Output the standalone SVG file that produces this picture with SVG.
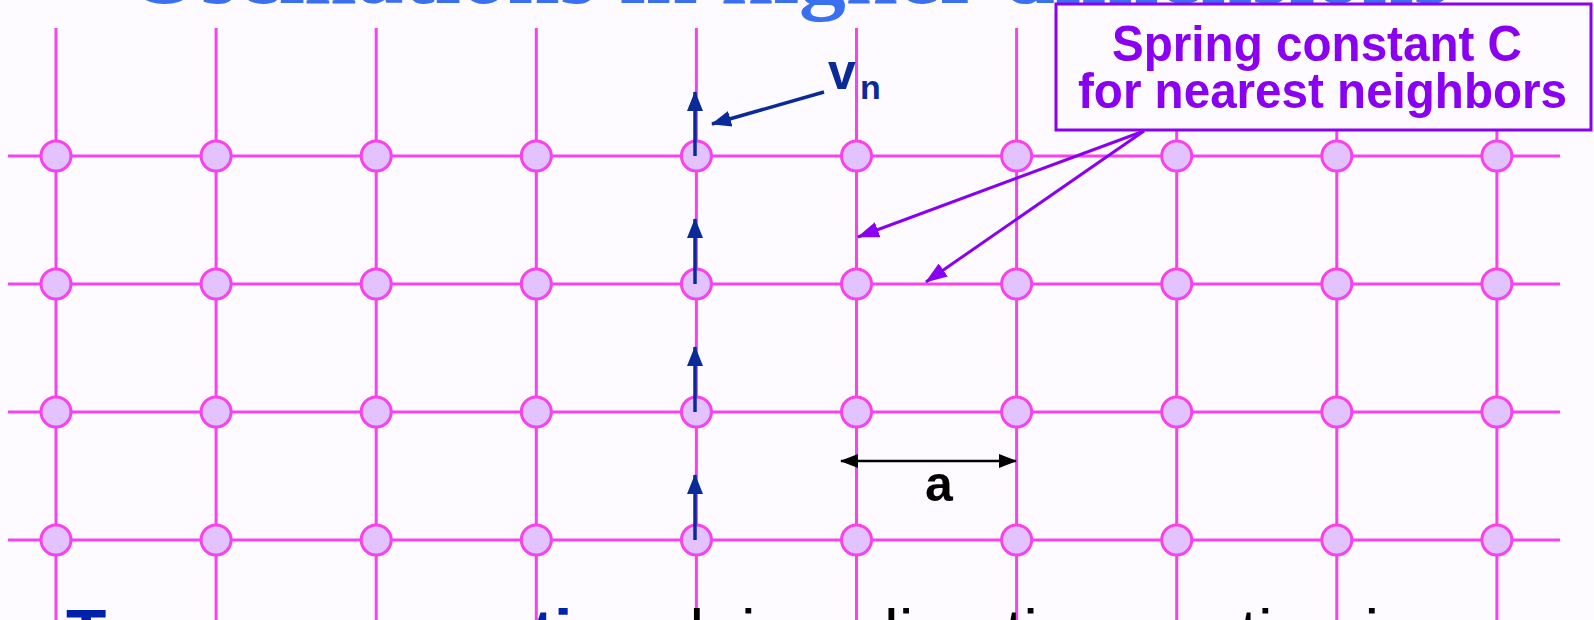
<svg xmlns="http://www.w3.org/2000/svg" width="1594" height="620" viewBox="0 0 1594 620">
<style>
.bg{fill:#fdfbff}
.gl{stroke:#f842ee;stroke-width:3;fill:none}
.nd{fill:#e2c2ff;stroke:#f842ee;stroke-width:3}
.ba{stroke:#0a2a9a;stroke-width:3.5;fill:none}
.pa{stroke:#8a00f0;stroke-width:3;fill:none}
.ka{stroke:#000;stroke-width:2.5;fill:none}
.box{fill:#fdfbff;stroke:#8a00f0;stroke-width:3}
.bt{font-family:"Liberation Sans",Arial,sans-serif;font-weight:bold;font-size:50px;fill:#8a00f0}
.title{font-family:"Liberation Serif","Times New Roman",serif;font-weight:bold;font-size:92px;fill:#3a6ff0}
.sans{font-family:"Liberation Sans",Arial,sans-serif}
</style>
<defs>
<marker id="mb" viewBox="0 0 20 16" refX="19" refY="8" markerWidth="20" markerHeight="16" orient="auto" markerUnits="userSpaceOnUse"><path d="M0,0 L20,8 L0,16 z" fill="#0a2a9a"/></marker>
<marker id="mp" viewBox="0 0 22 16" refX="21" refY="8" markerWidth="22" markerHeight="16" orient="auto" markerUnits="userSpaceOnUse"><path d="M0,0 L22,8 L0,16 z" fill="#8a00f0"/></marker>
<marker id="mk" viewBox="0 0 18 14" refX="17" refY="7" markerWidth="18" markerHeight="14" orient="auto-start-reverse" markerUnits="userSpaceOnUse"><path d="M0,0 L18,7 L0,14 z" fill="#000"/></marker>
</defs>
<rect class="bg" x="0" y="0" width="1594" height="620"/>
<text class="title" x="128" y="3" textLength="1322" lengthAdjust="spacingAndGlyphs">Oscillations in higher dimensions</text>
<g id="grid">
<path class="gl" d="M8,156H1560M8,284H1560M8,412H1560M8,540H1560"/>
<path class="gl" d="M56,28V620M216.1,28V620M376.2,28V620M536.3,28V620M696.4,28V620M856.5,28V620M1016.6,28V620M1176.7,28V620M1336.8,28V620M1496.9,28V620"/>
</g>
<g id="nodes">
<g id="n0_0"><circle class="nd" cx="56" cy="156" r="15"/></g>
<g id="n1_0"><circle class="nd" cx="216.1" cy="156" r="15"/></g>
<g id="n2_0"><circle class="nd" cx="376.2" cy="156" r="15"/></g>
<g id="n3_0"><circle class="nd" cx="536.3" cy="156" r="15"/></g>
<g id="n4_0"><circle class="nd" cx="696.4" cy="156" r="15"/></g>
<g id="n5_0"><circle class="nd" cx="856.5" cy="156" r="15"/></g>
<g id="n6_0"><circle class="nd" cx="1016.6" cy="156" r="15"/></g>
<g id="n7_0"><circle class="nd" cx="1176.7" cy="156" r="15"/></g>
<g id="n8_0"><circle class="nd" cx="1336.8" cy="156" r="15"/></g>
<g id="n9_0"><circle class="nd" cx="1496.9" cy="156" r="15"/></g>
<g id="n0_1"><circle class="nd" cx="56" cy="284" r="15"/></g>
<g id="n1_1"><circle class="nd" cx="216.1" cy="284" r="15"/></g>
<g id="n2_1"><circle class="nd" cx="376.2" cy="284" r="15"/></g>
<g id="n3_1"><circle class="nd" cx="536.3" cy="284" r="15"/></g>
<g id="n4_1"><circle class="nd" cx="696.4" cy="284" r="15"/></g>
<g id="n5_1"><circle class="nd" cx="856.5" cy="284" r="15"/></g>
<g id="n6_1"><circle class="nd" cx="1016.6" cy="284" r="15"/></g>
<g id="n7_1"><circle class="nd" cx="1176.7" cy="284" r="15"/></g>
<g id="n8_1"><circle class="nd" cx="1336.8" cy="284" r="15"/></g>
<g id="n9_1"><circle class="nd" cx="1496.9" cy="284" r="15"/></g>
<g id="n0_2"><circle class="nd" cx="56" cy="412" r="15"/></g>
<g id="n1_2"><circle class="nd" cx="216.1" cy="412" r="15"/></g>
<g id="n2_2"><circle class="nd" cx="376.2" cy="412" r="15"/></g>
<g id="n3_2"><circle class="nd" cx="536.3" cy="412" r="15"/></g>
<g id="n4_2"><circle class="nd" cx="696.4" cy="412" r="15"/></g>
<g id="n5_2"><circle class="nd" cx="856.5" cy="412" r="15"/></g>
<g id="n6_2"><circle class="nd" cx="1016.6" cy="412" r="15"/></g>
<g id="n7_2"><circle class="nd" cx="1176.7" cy="412" r="15"/></g>
<g id="n8_2"><circle class="nd" cx="1336.8" cy="412" r="15"/></g>
<g id="n9_2"><circle class="nd" cx="1496.9" cy="412" r="15"/></g>
<g id="n0_3"><circle class="nd" cx="56" cy="540" r="15"/></g>
<g id="n1_3"><circle class="nd" cx="216.1" cy="540" r="15"/></g>
<g id="n2_3"><circle class="nd" cx="376.2" cy="540" r="15"/></g>
<g id="n3_3"><circle class="nd" cx="536.3" cy="540" r="15"/></g>
<g id="n4_3"><circle class="nd" cx="696.4" cy="540" r="15"/></g>
<g id="n5_3"><circle class="nd" cx="856.5" cy="540" r="15"/></g>
<g id="n6_3"><circle class="nd" cx="1016.6" cy="540" r="15"/></g>
<g id="n7_3"><circle class="nd" cx="1176.7" cy="540" r="15"/></g>
<g id="n8_3"><circle class="nd" cx="1336.8" cy="540" r="15"/></g>
<g id="n9_3"><circle class="nd" cx="1496.9" cy="540" r="15"/></g>
</g>
<g id="connectors">
<path class="ba" marker-end="url(#mb)" d="M695,156V92"/>
<path class="ba" marker-end="url(#mb)" d="M695,284V219"/>
<path class="ba" marker-end="url(#mb)" d="M695,412V347"/>
<path class="ba" marker-end="url(#mb)" d="M695,540V475"/>
<path class="ba" marker-end="url(#mb)" d="M824,92L712,124"/>
<path class="pa" marker-end="url(#mp)" d="M1144,131L858,237"/>
<path class="pa" marker-end="url(#mp)" d="M1144,131L926,282"/>
<path class="ka" marker-start="url(#mk)" marker-end="url(#mk)" d="M841,461H1016"/>
</g>
<g id="label-box">
<rect class="box" x="1056" y="4" width="535" height="126"/>
<text class="bt" x="1112" y="61" textLength="410" lengthAdjust="spacingAndGlyphs">Spring constant C</text>
<text class="bt" x="1078" y="108" textLength="489" lengthAdjust="spacingAndGlyphs">for nearest neighbors</text>
</g>
<g id="label-vn">
<text class="sans" x="828" y="89" font-size="50" font-weight="bold" fill="#0a2a9a">v</text>
<text class="sans" x="860" y="99" font-size="34" font-weight="bold" fill="#0a2a9a">n</text>
</g>
<g id="label-a">
<text class="sans" x="939" y="501" font-size="50" font-weight="bold" fill="#000" text-anchor="middle">a</text>
</g>
<text class="sans" x="66" y="656" font-size="66"><tspan font-weight="bold" fill="#0022aa">Transverse motion</tspan><tspan fill="#000">: k in x direction, motion in y</tspan></text>
</svg>
